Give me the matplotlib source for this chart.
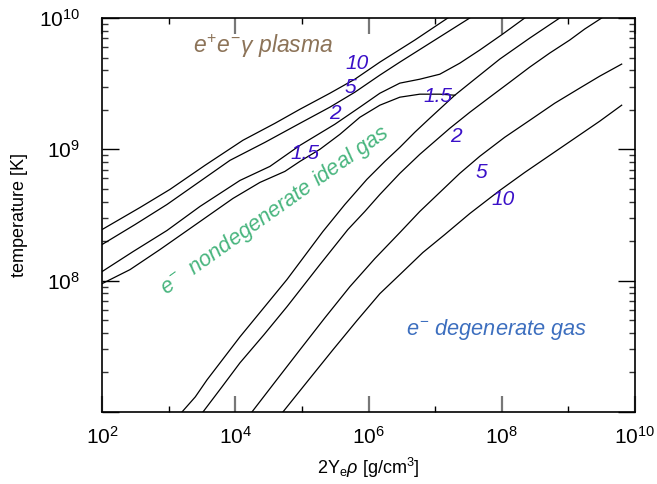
import numpy as np
import matplotlib
matplotlib.use('Agg')
from matplotlib import pyplot as plt
from matplotlib.ticker import FixedLocator, NullFormatter, LogFormatterSciNotation

plt.rcParams['font.family'] = ['Liberation Sans', 'DejaVu Sans']
plt.rcParams['mathtext.fontset'] = 'custom'
plt.rcParams['mathtext.rm'] = 'Liberation Sans'
plt.rcParams['mathtext.it'] = 'Liberation Sans:italic'
plt.rcParams['mathtext.bf'] = 'Liberation Sans:bold'

# contour lines, log10(2 Ye rho) and log10(T)
# pair plasma boundaries (upper family)
up10_lrho = [2.0, 2.57, 3.02, 3.545, 4.115, 4.595, 4.97, 5.42, 5.795, 6.17, 6.695, 7.19]
up10_lT = [8.389, 8.557, 8.695, 8.878, 9.069, 9.198, 9.305, 9.427, 9.534, 9.664, 9.832, 10.0]
up5_lrho = [2.0, 2.495, 2.975, 3.47, 3.92, 4.445, 4.97, 5.42, 5.795, 6.17, 6.47, 6.995, 7.52]
up5_lT = [8.275, 8.427, 8.58, 8.756, 8.916, 9.053, 9.198, 9.321, 9.435, 9.565, 9.664, 9.832, 10.0]
up2_lrho = [2.0, 2.465, 2.975, 3.47, 4.07, 4.52, 4.97, 5.495, 5.87, 6.17, 6.47, 6.77, 7.07,
            7.37, 7.67, 8.015, 8.345]
up2_lT = [8.069, 8.221, 8.382, 8.565, 8.763, 8.870, 9.030, 9.191, 9.321, 9.427, 9.504, 9.534,
          9.572, 9.656, 9.756, 9.878, 10.0]
up15_lrho = [2.0, 2.42, 2.87, 3.47, 3.965, 4.37, 4.745, 4.97, 5.27, 5.57, 5.87, 6.17, 6.47,
             6.77, 7.07, 7.295]
up15_lT = [7.977, 8.084, 8.237, 8.450, 8.626, 8.748, 8.832, 8.908, 9.0, 9.114, 9.244, 9.336,
           9.397, 9.42, 9.42, 9.412]

# degeneracy boundaries (lower family)
lo15_lrho = [3.20, 3.40, 3.575, 4.07, 4.775, 5.315, 5.645, 5.975, 6.245, 6.47, 6.695, 6.92,
             7.115, 7.295, 7.52, 7.97, 8.42, 8.87]
lo15_lT = [7.0, 7.115, 7.244, 7.572, 8.008, 8.374, 8.58, 8.771, 8.908, 9.015, 9.13, 9.237,
           9.328, 9.412, 9.504, 9.687, 9.847, 10.0]
lo2_lrho = [3.515, 3.80, 4.07, 4.43, 4.775, 5.27, 5.69, 5.945, 6.17, 6.47, 6.77, 7.22, 7.52,
            7.82, 8.12, 8.42, 8.72, 9.02, 9.245, 9.50]
lo2_lT = [7.0, 7.191, 7.374, 7.588, 7.801, 8.122, 8.389, 8.527, 8.656, 8.817, 8.962, 9.16,
          9.282, 9.397, 9.511, 9.626, 9.733, 9.832, 9.916, 10.0]
lo5_lrho = [4.25, 4.61, 4.97, 5.345, 5.72, 6.095, 6.47, 6.77, 7.07, 7.37, 7.67, 8.045, 8.42,
            8.795, 9.17, 9.47, 9.80]
lo5_lT = [7.0, 7.237, 7.473, 7.717, 7.954, 8.168, 8.366, 8.527, 8.672, 8.817, 8.947, 9.092,
          9.221, 9.351, 9.466, 9.557, 9.649]
lo10_lrho = [4.715, 5.09, 5.465, 5.825, 6.17, 6.47, 6.815, 7.145, 7.52, 7.97, 8.345, 8.72,
             9.095, 9.47, 9.80]
lo10_lT = [7.0, 7.237, 7.473, 7.695, 7.901, 8.046, 8.214, 8.351, 8.511, 8.687, 8.824, 8.954,
           9.084, 9.214, 9.336]

# contour labels: text, log10 rho, log10 T
label_text = ['10', '5', '2', '1.5', '1.5', '2', '5', '10']
label_lrho = [5.83, 5.72, 5.50, 5.05, 7.04, 7.31, 7.70, 8.02]
label_lT = [9.65, 9.47, 9.27, 8.97, 9.40, 9.10, 8.82, 8.62]

curves = [(up10_lrho, up10_lT), (up5_lrho, up5_lT), (up2_lrho, up2_lT), (up15_lrho, up15_lT),
          (lo15_lrho, lo15_lT), (lo2_lrho, lo2_lT), (lo5_lrho, lo5_lT), (lo10_lrho, lo10_lT)]

fig = plt.figure(figsize=(6.57, 4.84), dpi=100)
ax = fig.add_axes([0.1553, 0.1488, 0.8112, 0.814])

for lr, lt in curves:
    ax.plot(10**np.array(lr), 10**np.array(lt), color='black', lw=0.9)

for s, lr, lt in zip(label_text, label_lrho, label_lT):
    ax.text(10**lr, 10**lt, s, color='#3a10c8', fontsize=15, style='italic',
            ha='center', va='center')

ax.text(10**4.42, 10**9.79, r'$e^{+}e^{-}\gamma$ plasma', color='#8c7358', fontsize=16.5,
        style='italic', ha='center', va='center')
ax.text(10**4.6, 10**8.53, r'$e^{-}$  nondegenerate ideal gas', color='#48b57e', fontsize=15.7,
        style='italic', ha='center', va='center', rotation=35.5, rotation_mode='anchor')
ax.text(10**7.92, 10**7.63, r'$e^{-}$ degenerate gas', color='#3d6fbf', fontsize=15.7,
        style='italic', ha='center', va='center')

ax.set_xscale('log')
ax.set_yscale('log')
ax.set_xlim(1e2, 1e10)
ax.set_ylim(1e7, 1e10)

ax.xaxis.set_major_locator(FixedLocator([1e2, 1e4, 1e6, 1e8, 1e10]))
ax.xaxis.set_minor_locator(FixedLocator([1e3, 1e5, 1e7, 1e9]))
ax.xaxis.set_major_formatter(LogFormatterSciNotation())
ax.xaxis.set_minor_formatter(NullFormatter())

ax.yaxis.set_major_locator(FixedLocator([1e7, 1e8, 1e9, 1e10]))
ymin = [m * 10**d for d in range(7, 10) for m in range(2, 10)]
ax.yaxis.set_minor_locator(FixedLocator(ymin))
ax.set_yticklabels(['', r'$10^{8}$', r'$10^{9}$', r'$10^{10}$'])
ax.yaxis.set_minor_formatter(NullFormatter())

ax.tick_params(which='both', direction='in', top=True, right=True, labelsize=15)
ax.tick_params(axis='x', which='major', length=11.5, width=1.6, color='#777777', pad=10)
ax.tick_params(axis='x', which='minor', length=4, width=1.0, color='black')
ax.tick_params(axis='y', which='major', length=12, width=1.0, color='black', pad=16)
ax.tick_params(axis='y', which='minor', length=4.5, width=1.0, color='#333333')
for sp in ax.spines.values():
    sp.set_linewidth(1.2)

ax.set_xlabel(r'2Y$_{\rm e}\rho$ [g/cm$^{3}$]', fontsize=13, labelpad=6)
ax.set_ylabel('temperature [K]', fontsize=13, labelpad=8)

fig.savefig('out.png', dpi=100)
